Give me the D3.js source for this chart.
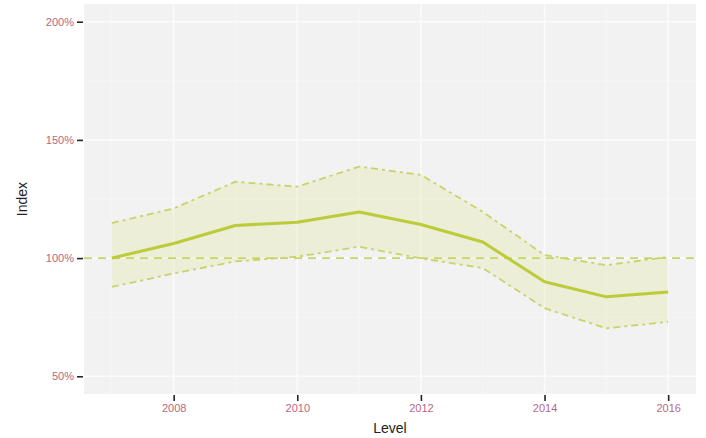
<!DOCTYPE html>
<html>
<head>
<meta charset="utf-8">
<script src="https://cdn.jsdelivr.net/npm/d3@7"></script>
<style>
  html, body { margin: 0; padding: 0; background: #ffffff; }
  svg { display: block; font-family: "Liberation Sans", Arial, sans-serif; }
</style>
</head>
<body>
<svg id="chart" width="706" height="438"></svg>
<script>
// Yearly index with an uncertainty band
const years = [2007, 2008, 2009, 2010, 2011, 2012, 2013, 2014, 2015, 2016];
const indexValues = [100, 106.2, 113.8, 115.2, 119.5, 114.2, 106.8, 90.0, 83.6, 85.7];
const upperValues = [114.8, 121.0, 132.3, 130.2, 138.7, 135.2, 119.6, 101.3, 97.0, 100.5];
const lowerValues = [87.8, 93.5, 98.6, 100.6, 104.8, 99.9, 95.8, 78.8, 70.3, 73.0];
const baseline = 100;

const xTicks = [2008, 2010, 2012, 2014, 2016];
const xMinor = [2007, 2009, 2011, 2013, 2015];
const yTicks = [50, 100, 150, 200];
const yMinor = [75, 125, 175];

const svg = d3.select("#chart");
const panel = { left: 84, right: 696, top: 4, bottom: 394 };

const x = d3.scaleLinear().domain([2006.55, 2016.45]).range([panel.left, panel.right]);
const y = d3.scaleLinear().domain([42.5, 207.5]).range([panel.bottom, panel.top]);

const lineCol = "#bccb38";
const bandLineCol = "#c8d46a";
const tickTextCol = "#b5687f";

// panel background
svg.append("rect")
  .attr("x", panel.left).attr("y", panel.top)
  .attr("width", panel.right - panel.left).attr("height", panel.bottom - panel.top)
  .attr("fill", "#f2f2f2");

const grid = svg.append("g");
grid.selectAll(".ymin").data(yMinor).join("line")
  .attr("x1", panel.left).attr("x2", panel.right)
  .attr("y1", d => y(d)).attr("y2", d => y(d))
  .attr("stroke", "#f7f7f7").attr("stroke-width", 0.8);
grid.selectAll(".xmin").data(xMinor).join("line")
  .attr("y1", panel.top).attr("y2", panel.bottom)
  .attr("x1", d => x(d)).attr("x2", d => x(d))
  .attr("stroke", "#f7f7f7").attr("stroke-width", 0.8);
grid.selectAll(".ymaj").data(yTicks).join("line")
  .attr("x1", panel.left).attr("x2", panel.right)
  .attr("y1", d => y(d)).attr("y2", d => y(d))
  .attr("stroke", "#fbfbfb").attr("stroke-width", 1.6);
grid.selectAll(".xmaj").data(xTicks).join("line")
  .attr("y1", panel.top).attr("y2", panel.bottom)
  .attr("x1", d => x(d)).attr("x2", d => x(d))
  .attr("stroke", "#fbfbfb").attr("stroke-width", 1.6);

const rows = years.map((yr, i) => ({ yr, v: indexValues[i], hi: upperValues[i], lo: lowerValues[i] }));

// band
svg.append("path")
  .datum(rows)
  .attr("d", d3.area().x(d => x(d.yr)).y0(d => y(d.lo)).y1(d => y(d.hi)))
  .attr("fill", "#e3e8a8").attr("fill-opacity", 0.35);

// band edges
const dashPattern = "7,4,3,4";
svg.append("path").datum(rows)
  .attr("d", d3.line().x(d => x(d.yr)).y(d => y(d.hi)))
  .attr("fill", "none").attr("stroke", bandLineCol).attr("stroke-width", 1.8)
  .attr("stroke-dasharray", dashPattern);
svg.append("path").datum(rows)
  .attr("d", d3.line().x(d => x(d.yr)).y(d => y(d.lo)))
  .attr("fill", "none").attr("stroke", bandLineCol).attr("stroke-width", 1.8)
  .attr("stroke-dasharray", dashPattern);

// baseline at 100%
svg.append("line")
  .attr("x1", panel.left).attr("x2", panel.right)
  .attr("y1", y(baseline)).attr("y2", y(baseline))
  .attr("stroke", bandLineCol).attr("stroke-width", 1.8)
  .attr("stroke-dasharray", "8,6");

// main index line
svg.append("path").datum(rows)
  .attr("d", d3.line().x(d => x(d.yr)).y(d => y(d.v)))
  .attr("fill", "none").attr("stroke", lineCol).attr("stroke-width", 3)
  .attr("stroke-linejoin", "round");

// axes
const yAxis = svg.append("g")
  .attr("transform", `translate(${panel.left - 1},0)`)
  .call(d3.axisLeft(y).tickValues(yTicks).tickFormat(d => d + "%").tickSize(6).tickPadding(3));
yAxis.select(".domain").remove();
yAxis.selectAll("line").attr("stroke", "#222").attr("stroke-width", 1.6);
yAxis.selectAll("text").attr("fill", tickTextCol).attr("font-size", 11);

const xAxis = svg.append("g")
  .attr("transform", `translate(0,${panel.bottom + 1})`)
  .call(d3.axisBottom(x).tickValues(xTicks).tickFormat(d3.format("d")).tickSize(6).tickPadding(3));
xAxis.select(".domain").remove();
xAxis.selectAll("line").attr("stroke", "#222").attr("stroke-width", 1.6);
xAxis.selectAll("text").attr("fill", tickTextCol).attr("font-size", 11);

// axis titles
svg.append("text")
  .attr("x", (panel.left + panel.right) / 2).attr("y", 433)
  .attr("text-anchor", "middle").attr("font-size", 14).attr("fill", "#222")
  .text("Level");
svg.append("text")
  .attr("transform", `translate(27,${(panel.top + panel.bottom) / 2}) rotate(-90)`)
  .attr("text-anchor", "middle").attr("font-size", 14).attr("fill", "#222")
  .text("Index");
</script>
</body>
</html>
